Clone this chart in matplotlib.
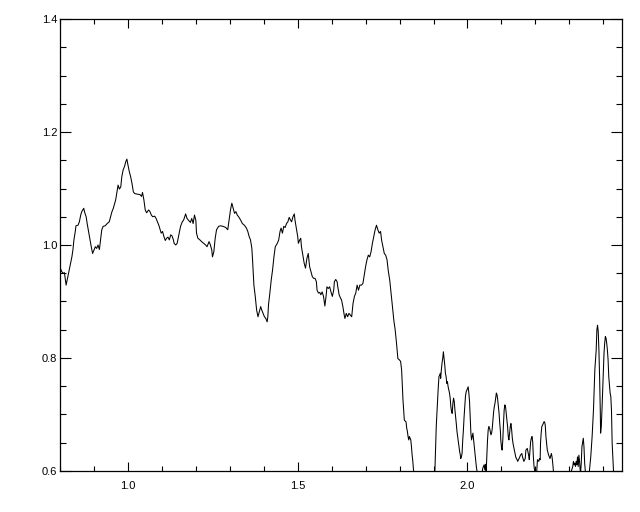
import matplotlib
matplotlib.use("Agg")
import matplotlib.pyplot as plt
from matplotlib.ticker import MultipleLocator, FormatStrFormatter

# values (below 0.6 the line is clipped)
wave = [
    0.801, 0.805, 0.809, 0.813, 0.818, 0.823, 0.828, 0.831, 0.835, 0.838,
    0.841, 0.845, 0.847, 0.853, 0.857, 0.861, 0.864, 0.868, 0.870, 0.872,
    0.877, 0.880, 0.884, 0.888, 0.892, 0.896, 0.900, 0.904, 0.908, 0.912,
    0.916, 0.920, 0.923, 0.927, 0.933, 0.939, 0.945, 0.949, 0.953, 0.957,
    0.961, 0.964, 0.967, 0.971, 0.975, 0.979, 0.982, 0.986, 0.990, 0.994,
    0.997, 1.000, 1.004, 1.008, 1.012, 1.016, 1.020, 1.028, 1.036, 1.040,
    1.043, 1.047, 1.051, 1.055, 1.061, 1.065, 1.069, 1.073, 1.079, 1.083,
    1.087, 1.091, 1.095, 1.098, 1.102, 1.106, 1.110, 1.114, 1.118, 1.122,
    1.126, 1.130, 1.134, 1.136,
    1.141, 1.145, 1.149, 1.155, 1.160, 1.164, 1.170, 1.174, 1.178, 1.184,
    1.188, 1.192, 1.196, 1.200, 1.202, 1.206, 1.212, 1.217, 1.223, 1.229,
    1.233, 1.239, 1.243, 1.247, 1.249, 1.253, 1.257, 1.261, 1.267, 1.273,
    1.280, 1.288, 1.294, 1.298, 1.302, 1.306, 1.310, 1.314, 1.318, 1.322,
    1.326, 1.332, 1.337, 1.343, 1.349, 1.353, 1.357, 1.361, 1.365, 1.367,
    1.369, 1.371, 1.375, 1.379, 1.383, 1.387, 1.391, 1.394, 1.398, 1.402,
    1.406, 1.410, 1.412, 1.414, 1.418, 1.422, 1.426, 1.430, 1.434, 1.440,
    1.444, 1.448, 1.451, 1.455, 1.459, 1.463, 1.467, 1.471, 1.475,
    1.478, 1.482, 1.486, 1.490, 1.492, 1.496, 1.500, 1.502, 1.506, 1.509,
    1.511, 1.515, 1.519, 1.523, 1.527, 1.531, 1.535, 1.539, 1.543, 1.547,
    1.551, 1.555, 1.557, 1.561, 1.565, 1.568, 1.572, 1.576, 1.580, 1.584,
    1.586, 1.590, 1.594, 1.598, 1.602, 1.606, 1.608, 1.612, 1.616, 1.618,
    1.622, 1.626, 1.629, 1.633, 1.637, 1.639, 1.643, 1.647, 1.651, 1.655,
    1.659, 1.663, 1.667, 1.671, 1.675, 1.679, 1.683, 1.688, 1.692, 1.696,
    1.700, 1.704, 1.708, 1.712, 1.716, 1.720, 1.724, 1.728, 1.732, 1.736,
    1.740, 1.744, 1.747, 1.751, 1.755, 1.759, 1.763, 1.767, 1.771, 1.775,
    1.779, 1.783, 1.787, 1.791, 1.795, 1.799, 1.803, 1.806, 1.810, 1.814,
    1.819, 1.821, 1.823, 1.825, 1.827, 1.829, 1.831, 1.833, 1.835, 1.837,
    1.839, 1.841, 1.845, 1.870, 1.900,
    1.904, 1.908, 1.912, 1.914, 1.916, 1.920, 1.921, 1.923, 1.925, 1.927,
    1.929, 1.931, 1.933, 1.935, 1.937, 1.939, 1.941, 1.943, 1.945, 1.947,
    1.949, 1.951, 1.953, 1.955, 1.957, 1.959, 1.961, 1.963, 1.965, 1.967,
    1.969, 1.971, 1.973, 1.975, 1.977, 1.979, 1.980, 1.982, 1.984, 1.986,
    1.988, 1.990, 1.992, 1.994, 1.996, 1.998, 2.000, 2.002, 2.004, 2.006,
    2.008, 2.010, 2.012, 2.014, 2.016, 2.018, 2.020, 2.022, 2.024, 2.026,
    2.028, 2.032, 2.041, 2.045, 2.049, 2.051, 2.053, 2.055, 2.059, 2.061,
    2.063, 2.065, 2.067, 2.069, 2.071, 2.073, 2.075, 2.077, 2.079, 2.081,
    2.083, 2.085, 2.087, 2.089, 2.091, 2.093, 2.095, 2.097, 2.098, 2.100,
    2.102, 2.104, 2.106, 2.108, 2.110, 2.112, 2.114, 2.116, 2.118, 2.120,
    2.122, 2.124, 2.126, 2.128, 2.130, 2.132, 2.134, 2.136, 2.138, 2.140,
    2.142, 2.144, 2.146, 2.148, 2.150, 2.152, 2.154, 2.156,
    2.160, 2.162, 2.166, 2.170, 2.172, 2.176, 2.180, 2.182, 2.184, 2.186,
    2.188, 2.190, 2.192, 2.194, 2.196, 2.198, 2.201, 2.204, 2.206, 2.210,
    2.212, 2.214, 2.215, 2.217, 2.219, 2.221, 2.225, 2.227, 2.229, 2.231,
    2.235, 2.239, 2.243, 2.247, 2.249, 2.251, 2.253, 2.259, 2.298, 2.306,
    2.310, 2.312, 2.314, 2.316, 2.318, 2.320, 2.322, 2.324, 2.326, 2.328,
    2.330, 2.332, 2.333, 2.335, 2.337, 2.341, 2.343, 2.345, 2.347, 2.351,
    2.357, 2.359, 2.363, 2.367, 2.371, 2.373, 2.375, 2.377, 2.379, 2.381,
    2.383, 2.385, 2.387, 2.389, 2.391, 2.392, 2.394, 2.396, 2.398, 2.400,
    2.402, 2.404, 2.406, 2.408, 2.410, 2.412, 2.414, 2.416, 2.420, 2.422,
    2.424, 2.426, 2.428, 2.430, 2.434, 2.450,
]
flux = [
    0.959, 0.953, 0.950, 0.951, 0.929, 0.944, 0.959, 0.968, 0.979, 0.991,
    1.009, 1.024, 1.034, 1.035, 1.041, 1.053, 1.059, 1.063, 1.065, 1.059,
    1.050, 1.038, 1.024, 1.009, 0.997, 0.985, 0.991, 0.997, 0.994, 1.000,
    0.992, 1.012, 1.027, 1.033, 1.034, 1.038, 1.041, 1.050, 1.059, 1.065,
    1.074, 1.080, 1.091, 1.106, 1.099, 1.103, 1.121, 1.133, 1.139, 1.148,
    1.152, 1.142, 1.130, 1.121, 1.109, 1.094, 1.091, 1.090, 1.089, 1.086,
    1.093, 1.080, 1.062, 1.057, 1.062, 1.059, 1.053, 1.050, 1.051, 1.047,
    1.041, 1.035, 1.027, 1.021, 1.024, 1.015, 1.008, 1.012, 1.014, 1.009,
    1.018, 1.016, 1.009, 1.003,
    1.000, 1.003, 1.015, 1.033, 1.041, 1.044, 1.055, 1.047, 1.044, 1.040,
    1.047, 1.038, 1.053, 1.044, 1.021, 1.012, 1.009, 1.006, 1.003, 1.000,
    0.997, 1.006, 1.000, 0.991, 0.979, 0.988, 1.012, 1.027, 1.033, 1.034,
    1.033, 1.031, 1.027, 1.044, 1.062, 1.074, 1.065, 1.056, 1.059, 1.053,
    1.050, 1.044, 1.038, 1.035, 1.030, 1.024, 1.015, 1.009, 0.994, 0.974,
    0.950, 0.929, 0.909, 0.885, 0.873, 0.882, 0.891, 0.885, 0.879, 0.873,
    0.870, 0.864, 0.873, 0.894, 0.915, 0.938, 0.956, 0.979, 0.997, 1.003,
    1.009, 1.024, 1.030, 1.021, 1.033, 1.031, 1.038, 1.041, 1.049,
    1.045, 1.041, 1.050, 1.055, 1.044, 1.030, 1.015, 1.003, 1.009, 1.012,
    0.997, 0.982, 0.968, 0.959, 0.976, 0.985, 0.962, 0.953, 0.944, 0.941,
    0.941, 0.935, 0.920, 0.915, 0.916, 0.912, 0.917, 0.909, 0.892, 0.912,
    0.926, 0.923, 0.926, 0.917, 0.909, 0.920, 0.935, 0.939, 0.935, 0.926,
    0.912, 0.906, 0.903, 0.891, 0.876, 0.870, 0.879, 0.873, 0.879, 0.876,
    0.873, 0.897, 0.909, 0.915, 0.929, 0.920, 0.929, 0.929, 0.932, 0.947,
    0.962, 0.974, 0.982, 0.979, 0.988, 1.003, 1.015, 1.027, 1.035, 1.027,
    1.021, 1.024, 1.009, 0.997, 0.985, 0.982, 0.974, 0.953, 0.938, 0.915,
    0.891, 0.867, 0.850, 0.826, 0.799, 0.797, 0.794, 0.779, 0.726, 0.690,
    0.687, 0.676, 0.670, 0.661, 0.655, 0.661, 0.658, 0.655, 0.643, 0.628,
    0.617, 0.602, 0.584, 0.550, 0.584,
    0.600, 0.679, 0.726, 0.749, 0.767, 0.773, 0.764, 0.779, 0.791, 0.799,
    0.811, 0.799, 0.788, 0.773, 0.767, 0.755, 0.758, 0.749, 0.743, 0.738,
    0.729, 0.714, 0.705, 0.702, 0.720, 0.729, 0.723, 0.708, 0.696, 0.684,
    0.670, 0.661, 0.652, 0.643, 0.634, 0.628, 0.622, 0.625, 0.631, 0.655,
    0.673, 0.696, 0.714, 0.732, 0.740, 0.743, 0.746, 0.749, 0.738, 0.723,
    0.696, 0.667, 0.655, 0.661, 0.667, 0.655, 0.643, 0.631, 0.620, 0.608,
    0.600, 0.590, 0.590, 0.605, 0.611, 0.602, 0.612, 0.599, 0.655, 0.673,
    0.679, 0.676, 0.670, 0.664, 0.667, 0.676, 0.690, 0.705, 0.714, 0.720,
    0.729, 0.738, 0.735, 0.726, 0.714, 0.702, 0.684, 0.670, 0.655, 0.643,
    0.637, 0.655, 0.684, 0.708, 0.717, 0.714, 0.702, 0.690, 0.679, 0.661,
    0.655, 0.667, 0.679, 0.684, 0.673, 0.658, 0.649, 0.643, 0.637, 0.631,
    0.625, 0.622, 0.620, 0.617, 0.620, 0.622, 0.625, 0.628,
    0.631, 0.625, 0.617, 0.622, 0.637, 0.640, 0.628, 0.620, 0.637, 0.652,
    0.658, 0.661, 0.652, 0.625, 0.608, 0.600, 0.590, 0.600, 0.620, 0.617,
    0.622, 0.620, 0.649, 0.667, 0.679, 0.681, 0.687, 0.687, 0.681, 0.661,
    0.637, 0.628, 0.622, 0.631, 0.625, 0.614, 0.600, 0.578, 0.578, 0.600,
    0.608, 0.617, 0.611, 0.614, 0.608, 0.617, 0.611, 0.625, 0.608, 0.628,
    0.617, 0.600, 0.596, 0.614, 0.643, 0.658, 0.643, 0.614, 0.600, 0.590,
    0.590, 0.600, 0.625, 0.661, 0.708, 0.743, 0.779, 0.797, 0.814, 0.850,
    0.858, 0.847, 0.814, 0.767, 0.708, 0.667, 0.679, 0.708, 0.743, 0.779,
    0.808, 0.826, 0.838, 0.835, 0.826, 0.814, 0.797, 0.767, 0.738, 0.732,
    0.708, 0.649, 0.625, 0.600, 0.566, 0.550,
]

x_range = (0.8, 2.455)
y_range = (0.6, 1.4)

fig = plt.figure(figsize=(6.4, 5.12), dpi=100)
ax = fig.add_axes([60 / 640, 41 / 512, 562 / 640, 452 / 512])

ax.plot(wave, flux, color="black", linewidth=0.75)

ax.set_xlim(*x_range)
ax.set_ylim(*y_range)

ax.xaxis.set_major_locator(MultipleLocator(0.5))
ax.xaxis.set_minor_locator(MultipleLocator(0.1))
ax.yaxis.set_major_locator(MultipleLocator(0.2))
ax.yaxis.set_minor_locator(MultipleLocator(0.05))
ax.xaxis.set_major_formatter(FormatStrFormatter("%.1f"))
ax.yaxis.set_major_formatter(FormatStrFormatter("%.1f"))

ax.tick_params(axis="both", which="both", direction="in",
               top=True, right=True, width=0.8, color="black",
               labelsize=8, labelcolor="black")
ax.tick_params(axis="x", which="major", length=6.5, pad=7)
ax.tick_params(axis="x", which="minor", length=3.3)
ax.tick_params(axis="y", which="major", length=8.0, pad=2)
ax.tick_params(axis="y", which="minor", length=4.0)

for lab in ax.get_xticklabels() + ax.get_yticklabels():
    lab.set_family("Liberation Sans")

for sp in ax.spines.values():
    sp.set_linewidth(0.9)
    sp.set_color("black")

fig.savefig("out.png", dpi=100, facecolor="white")
